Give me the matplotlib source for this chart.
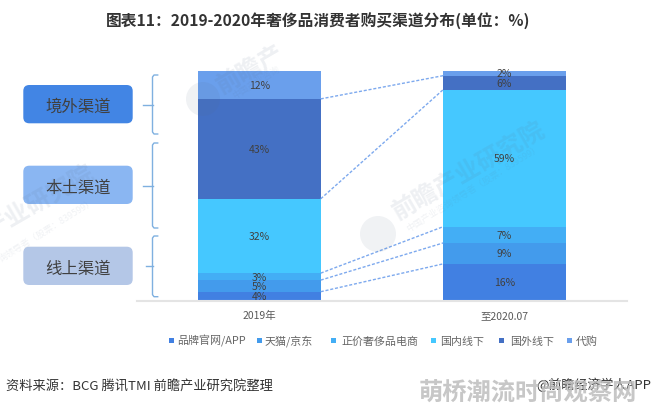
import numpy as np
import matplotlib
matplotlib.use("Agg")
import matplotlib.pyplot as plt
from matplotlib.patches import FancyBboxPatch, Circle, Rectangle

plt.rcParams['font.family'] = ['Noto Sans CJK SC', 'DejaVu Sans']

W, H = 652, 406

periods = ['2019年', '至2020.07']
series_names = ['品牌官网/APP', '天猫/京东', '正价奢侈品电商', '国内线下', '国外线下', '代购']
brand_site = [4, 16]
tmall_jd = [5, 9]
full_price = [3, 7]
domestic = [32, 59]
overseas = [43, 6]
daigou = [12, 2]
series_colors = ['#4180e2', '#439bec', '#43aef5', '#45c8ff', '#4470c4', '#6a9fec']

channel_names = ['境外渠道', '本土渠道', '线上渠道']
channel_colors = ['#4285e4', '#8ab6f2', '#b4c7e7']

# pixel layout of the reference
def px_axes(fig, x0, y0, x1, y1):
	return fig.add_axes([x0 / W, 1 - y1 / H, (x1 - x0) / W, (y1 - y0) / H])

fig = plt.figure(figsize=(W / 100, H / 100), dpi=100)

ax = px_axes(fig, 137, 72, 627, 302)
values = np.array([brand_site, tmall_jd, full_price, domestic, overseas, daigou], dtype=float)
shares = values / values.sum(axis=0) * 100

xpos = np.arange(len(periods))
bottom = np.zeros(len(periods))
tops = []
for i, name in enumerate(series_names):
	bars = ax.bar(xpos, shares[i], 0.5, bottom=bottom, color=series_colors[i], linewidth=0)
	ax.bar_label(bars, labels=['{:.0f}%'.format(v) for v in values[i]], label_type='center',
				fontsize=7.5, color='#404040')
	bottom = bottom + shares[i]
	tops.append(bottom.copy())

# dashed connectors between the two bars
for top in tops[:-1]:
	ax.plot([xpos[0] + 0.25, xpos[1] - 0.25], top, color='#7da9ee', linewidth=1,
			linestyle=(0, (2.2, 1.3)))

ax.set_xlim(-0.5, 1.5)
ax.set_ylim(0, 100)
ax.set_yticks([])
ax.set_xticks(xpos)
ax.set_xticklabels(periods, fontsize=7.5, color='#595959')
ax.tick_params(axis='x', length=0, pad=6.5)
for s in ['top', 'left', 'right']:
	ax.spines[s].set_visible(False)
ax.spines['bottom'].set_color('#e4e4e4')
ax.spines['bottom'].set_linewidth(1.5)

# overlay in pixel coordinates for the decorations
ov = fig.add_axes([0, 0, 1, 1], zorder=5)
ov.set_xlim(0, W)
ov.set_ylim(H, 0)
ov.axis('off')
ov.patch.set_alpha(0)

ov.text(318, 21, '图表11：2019-2020年奢侈品消费者购买渠道分布(单位：%)', fontsize=11.3,
		fontweight='bold', color='#333333', ha='center', va='center')

box_tops = [86, 166.7, 247.7]
box_h = 38.3
for name, col, y in zip(channel_names, channel_colors, box_tops):
	ov.add_patch(FancyBboxPatch((23.3, y), 109.4, box_h,
				boxstyle='round,pad=0,rounding_size=6', facecolor=col, linewidth=0))
	ov.text(78, y + box_h / 2 + 2, name, fontsize=11.8, color='#404040', ha='center', va='center')

brace_spans = [(76, 105.7, 135, 143), (144, 186.7, 229, 143), (237, 267, 297.7, 146)]
for y0, ym, y1, tip in brace_spans:
	ov.plot([157.7, 154, 152.5, 152.5, 154, 157.7], [y0, y0, y0 + 2, y1 - 2, y1, y1],
			color='#7fb0e0', linewidth=1)
	ov.plot([tip, 152.5], [ym, ym], color='#7fb0e0', linewidth=1)

legend_marks = [171, 259, 333, 433, 501, 569]
legend_text = [177, 265, 341, 440, 510, 576]
for name, col, mx, tx in zip(series_names, series_colors, legend_marks, legend_text):
	ov.add_patch(Rectangle((mx - 2.5, 338.5), 5, 5, facecolor=col, linewidth=0))
	ov.text(tx, 345, name, fontsize=7.9, color='#666666', ha='left', va='baseline')

ov.text(6, 389.5, '资料来源：BCG 腾讯TMI 前瞻产业研究院整理', fontsize=9.5, color='#333333',
		ha='left', va='baseline')
ov.text(651, 389.5, '@前瞻经济学人APP', fontsize=9.4, color='#333333', ha='right', va='baseline')
ov.text(528, 393, '萌桥潮流时尚观察网', fontsize=17.5, fontweight='bold', color='#bdbdbd',
		alpha=0.85, ha='center', va='center')

# watermarks
wm_color = '#5a6f8c'
wm_big = 0.1
wm_small = 0.09
ov.text(394, 214, '前瞻产业研究院', fontsize=17.7, fontweight='bold', color=wm_color, alpha=wm_big,
		rotation=30, rotation_mode='anchor', ha='left', va='center')
ov.text(407, 230, '中国产业咨询领导者（股票：839599）', fontsize=6.5, color=wm_color, alpha=wm_small,
		rotation=32, rotation_mode='anchor', ha='left', va='center')
ov.add_patch(Circle((378, 235), 18, facecolor=wm_color, alpha=0.09, linewidth=0))
ov.text(218, 88, '前瞻产', fontsize=17.7, fontweight='bold', color=wm_color, alpha=wm_big,
		rotation=30, rotation_mode='anchor', ha='left', va='center')
ov.add_patch(Circle((203, 100), 17, facecolor=wm_color, alpha=0.09, linewidth=0))
ov.text(233, 97, '中国产业咨询', fontsize=6.5, color=wm_color, alpha=wm_small,
		rotation=32, rotation_mode='anchor', ha='left', va='center')
ov.text(-14, 233, '产业研究院', fontsize=17.7, fontweight='bold', color=wm_color, alpha=wm_big,
		rotation=30, rotation_mode='anchor', ha='left', va='center')
ov.text(0, 260, '询领导者（股票：839599）', fontsize=6.5, color=wm_color, alpha=wm_small,
		rotation=32, rotation_mode='anchor', ha='left', va='center')

fig.savefig('out.png', dpi=100)
